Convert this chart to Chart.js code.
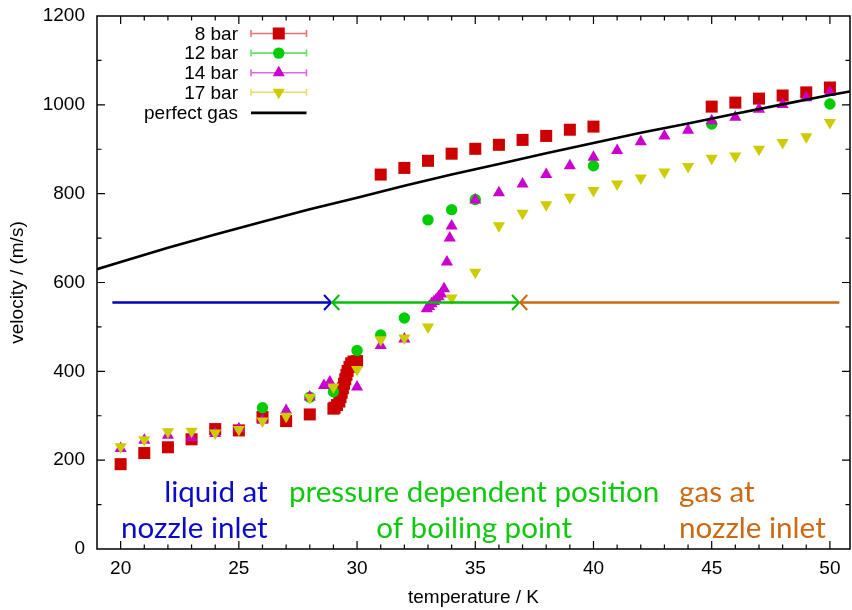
<!DOCTYPE html>
<html><head><meta charset="utf-8">
<style>html,body{margin:0;padding:0;background:#fff}#wrap{width:852px;height:610px}</style>
<script src="https://cdn.jsdelivr.net/npm/chart.js@4.4.1/dist/chart.umd.min.js"></script>
</head><body><div id="wrap"><canvas id="c" width="852" height="610"></canvas></div>
<script>
// ---- data ----
const temp8 = [20,21,22,23,24,25,26,27,28,29,29.05,29.15,29.25,29.3,29.35,29.4,29.45,29.5,29.55,29.6,29.68,29.75,29.85,30,31,32,33,34,35,36,37,38,39,40,45,46,47,48,49,50];
const vel8  = [191,216,229,247,270,267,297,288,303,316,318,324,332,342,352,362,372,382,392,401,410,418,422,423,843,858,874,890,901,910,921,930,944,951,996,1005,1014,1021,1028,1039];
const temp12 = [26,28,29,30,31,32,33,34,35,40,45,50];
const vel12  = [318,342,354,447,482,520,741,764,787,863,957,1002];
const temp14 = [20,21,22,23,24,25,26,27,28,28.6,28.85,30,31,32,32.95,33.05,33.15,33.25,33.35,33.45,33.55,33.68,33.8,33.92,34,35,36,37,38,39,40,41,42,43,44,45,46,47,48,49,50];
const vel14  = [226,245,256,251,260,271,290,312,342,368,376,365,458,473,541,546,552,557,562,568,574,586,646,700,727,786,802,822,843,863,882,897,917,930,943,964,972,990,1001,1016,1028];
const temp17 = [20,21,22,23,24,25,26,27,28,29,30,31,32,33,34,35,36,37,38,39,40,41,42,43,44,45,46,47,48,49,50];
const vel17  = [230,246,264,265,261,269,288,299,341,365,404,471,475,500,565,623,728,756,775,792,807,822,835,849,861,880,885,900,915,928,960];
const tempGas = [19,20,22,24,26,28,30,32,34,36,38,40,42,44,46,48,50,50.85];
const velGas  = [630,646,678,708,737,765,791,818,843,867,891,914,937,958,980,1001,1022,1030];
const xTickValues = [20,25,30,35,40,45,50];
const yTickValues = [0,200,400,600,800,1000,1200];
const seriesLabels = ['8 bar','12 bar','14 bar','17 bar','perfect gas'];
// arrows: [from T, to T] at velocity level
const arrowLevel = 555;
const arrowLiquid = [19.65, 28.9];
const arrowBoiling = [28.95, 36.85];
const arrowGas = [36.9, 50.4];
// annotation texts (two lines each) with anchor temperatures and line velocities
const textLiquid = ['liquid at','nozzle inlet'];
const textBoiling = ['pressure dependent position','of boiling point'];
const textGas = ['gas at','nozzle inlet'];
const textAnchorT = [26.22, 34.95, 43.62];
const textLineV = [105, 24];

// ---- styles ----
const RED='#cc0000', GREEN='#00cc00', MAG='#cc00cc', YEL='#cccc00';
const TBLUE='#0a0ac8', TGREEN='#11c811', TORANGE='#cc6a14';
const FONT='"Liberation Sans", Arial, Helvetica, sans-serif';
const ANNFONT='Lato, "Open Sans", sans-serif';

function pts(xs, ys){ return xs.map((x,i)=>({x:x, y:ys[i]})); }

function marker(ctx, style, x, y, color){
  ctx.save(); ctx.fillStyle=color;
  ctx.beginPath();
  if(style==='rect'){ ctx.rect(x-6,y-6,12,12); }
  else if(style==='circle'){ ctx.arc(x,y,5.7,0,Math.PI*2); }
  else if(style==='up'){ const r=7; ctx.moveTo(x,y-r); ctx.lineTo(x+r*0.866,y+r/2); ctx.lineTo(x-r*0.866,y+r/2); ctx.closePath(); }
  else if(style==='down'){ const r=7; ctx.moveTo(x,y+r); ctx.lineTo(x+r*0.866,y-r/2); ctx.lineTo(x-r*0.866,y-r/2); ctx.closePath(); }
  ctx.fill(); ctx.restore();
}

const decor = {
  id:'decor',
  afterDatasetsDraw(chart){
    const {ctx, chartArea:a, scales:{x:xs, y:ys}} = chart;
    ctx.save();
    // frame
    ctx.strokeStyle='#000'; ctx.lineWidth=1.5;
    ctx.strokeRect(a.left, a.top, a.right-a.left, a.bottom-a.top);
    // inward mirrored ticks
    ctx.lineWidth=1.2;
    ctx.beginPath();
    for(let t=Math.ceil(xs.min); t<=Math.floor(xs.max); t++){
      const px = xs.getPixelForValue(t);
      if(px<=a.left+1 || px>=a.right-1) continue;
      const L = (t%5===0)?8:4.5;
      ctx.moveTo(px,a.bottom); ctx.lineTo(px,a.bottom-L);
      ctx.moveTo(px,a.top); ctx.lineTo(px,a.top+L);
    }
    for(let v=100; v<ys.max; v+=100){
      const py = ys.getPixelForValue(v);
      const L = (v%200===0)?8:4.5;
      ctx.moveTo(a.left,py); ctx.lineTo(a.left+L,py);
      ctx.moveTo(a.right,py); ctx.lineTo(a.right-L,py);
    }
    ctx.stroke();

    // arrows
    const ay = ys.getPixelForValue(arrowLevel);
    function arrow(t1,t2,color,headStart,headEnd){
      const x1=xs.getPixelForValue(t1), x2=xs.getPixelForValue(t2);
      ctx.strokeStyle=color; ctx.lineWidth=2.6; ctx.lineCap='butt';
      ctx.beginPath(); ctx.moveTo(x1,ay); ctx.lineTo(x2,ay); ctx.stroke();
      ctx.lineWidth=2;
      const hx=7, hy=7.5;
      if(headEnd){ ctx.beginPath(); ctx.moveTo(x2-hx,ay-hy); ctx.lineTo(x2,ay); ctx.lineTo(x2-hx,ay+hy); ctx.stroke(); }
      if(headStart){ ctx.beginPath(); ctx.moveTo(x1+hx,ay-hy); ctx.lineTo(x1,ay); ctx.lineTo(x1+hx,ay+hy); ctx.stroke(); }
    }
    arrow(arrowLiquid[0],arrowLiquid[1],'#0000c0',false,true);
    arrow(arrowBoiling[0],arrowBoiling[1],'#00c000',true,true);
    arrow(arrowGas[0],arrowGas[1],'#cc6a10',true,false);

    // annotation texts, size fitted to reference widths
    const allT=[...textLiquid,...textBoiling,...textGas];
    ctx.font='100px '+ANNFONT;
    let sum=0; allT.forEach(s=>sum+=ctx.measureText(s).width);
    const size = Math.round(100*1040/sum*10)/10;
    ctx.font=size+'px '+ANNFONT; ctx.textBaseline='alphabetic';
    const groups=[[textLiquid,'right',TBLUE],[textBoiling,'center',TGREEN],[textGas,'left',TORANGE]];
    groups.forEach((g,gi)=>{
      ctx.fillStyle=g[2]; ctx.textAlign=g[1];
      g[0].forEach((s,li)=>{ ctx.fillText(s, xs.getPixelForValue(textAnchorT[gi]), ys.getPixelForValue(textLineV[li])); });
    });

    // legend
    const styles=[['rect',RED,'rgba(204,0,0,0.55)'],['circle',GREEN,'rgba(0,204,0,0.6)'],['up',MAG,'rgba(204,0,204,0.6)'],['down',YEL,'rgba(204,204,0,0.6)']];
    ctx.font='19px '+FONT; ctx.textAlign='right'; ctx.textBaseline='middle';
    const tx=a.left+141, sx1=a.left+154, sx2=a.left+209.5, smid=(sx1+sx2)/2;
    seriesLabels.forEach((lab,i)=>{
      const ry=a.top+17.5+i*19.6+(i===4?1:0);
      ctx.fillStyle='#000'; ctx.fillText(lab, tx, ry+1);
      if(i<4){
        ctx.strokeStyle=styles[i][2]; ctx.lineWidth=1.6;
        ctx.beginPath(); ctx.moveTo(sx1,ry); ctx.lineTo(sx2,ry);
        ctx.moveTo(sx1,ry-3.5); ctx.lineTo(sx1,ry+3.5);
        ctx.moveTo(sx2,ry-3.5); ctx.lineTo(sx2,ry+3.5); ctx.stroke();
        marker(ctx, styles[i][0], smid, ry, styles[i][1]);
      } else {
        ctx.strokeStyle='#000'; ctx.lineWidth=2.6;
        ctx.beginPath(); ctx.moveTo(sx1,ry); ctx.lineTo(sx2,ry); ctx.stroke();
      }
    });
    ctx.restore();
  }
};

function zeroPad(s){ s.paddingLeft=0; s.paddingRight=0; s.paddingTop=0; s.paddingBottom=0; }
const common = {showLine:false, borderWidth:0, pointBorderWidth:0, pointHoverRadius:0};
new Chart(document.getElementById('c'), {
  type:'scatter',
  data:{ datasets:[
    Object.assign({label:seriesLabels[0], data:pts(temp8,vel8), pointStyle:'rect', pointRadius:8.5, backgroundColor:RED, borderColor:RED, order:5}, common),
    Object.assign({label:seriesLabels[1], data:pts(temp12,vel12), pointStyle:'circle', pointRadius:5.7, backgroundColor:GREEN, borderColor:GREEN, order:4}, common),
    Object.assign({label:seriesLabels[2], data:pts(temp14,vel14), pointStyle:'triangle', pointRadius:7, backgroundColor:MAG, borderColor:MAG, order:3}, common),
    Object.assign({label:seriesLabels[3], data:pts(temp17,vel17), pointStyle:'triangle', pointRotation:180, pointRadius:7, backgroundColor:YEL, borderColor:YEL, order:2}, common),
    {label:seriesLabels[4], data:pts(tempGas,velGas), showLine:true, pointRadius:0, borderColor:'#000', borderWidth:2.6, tension:0, order:1}
  ]},
  options:{
    responsive:false, animation:false, devicePixelRatio:1,
    layout:{autoPadding:false, padding:{left:0,top:16,right:2,bottom:0}},
    plugins:{legend:{display:false}, tooltip:{enabled:false}},
    scales:{
      x:{type:'linear', min:19, max:50.85,
         afterBuildTicks:s=>{s.ticks=xTickValues.map(v=>({value:v}));},
         afterFit:s=>{s.height=61; zeroPad(s);},
         grid:{display:false, drawTicks:false}, border:{display:false},
         ticks:{color:'#000', font:{family:FONT,size:19}, padding:8, maxRotation:0, autoSkip:false, callback:v=>String(v)},
         title:{display:true, text:'temperature / K', color:'#000', font:{family:FONT,size:19}, padding:{top:0,bottom:1}}},
      y:{type:'linear', min:0, max:1200,
         afterBuildTicks:s=>{s.ticks=yTickValues.map(v=>({value:v}));},
         afterFit:s=>{s.width=97; zeroPad(s);},
         grid:{display:false, drawTicks:false}, border:{display:false},
         ticks:{color:'#000', font:{family:FONT,size:19}, padding:12, autoSkip:false, callback:v=>String(v)},
         title:{display:true, text:'velocity / (m/s)', color:'#000', font:{family:FONT,size:19}, padding:{top:6,bottom:0}}}
    }
  },
  plugins:[decor]
});
</script></body></html>
